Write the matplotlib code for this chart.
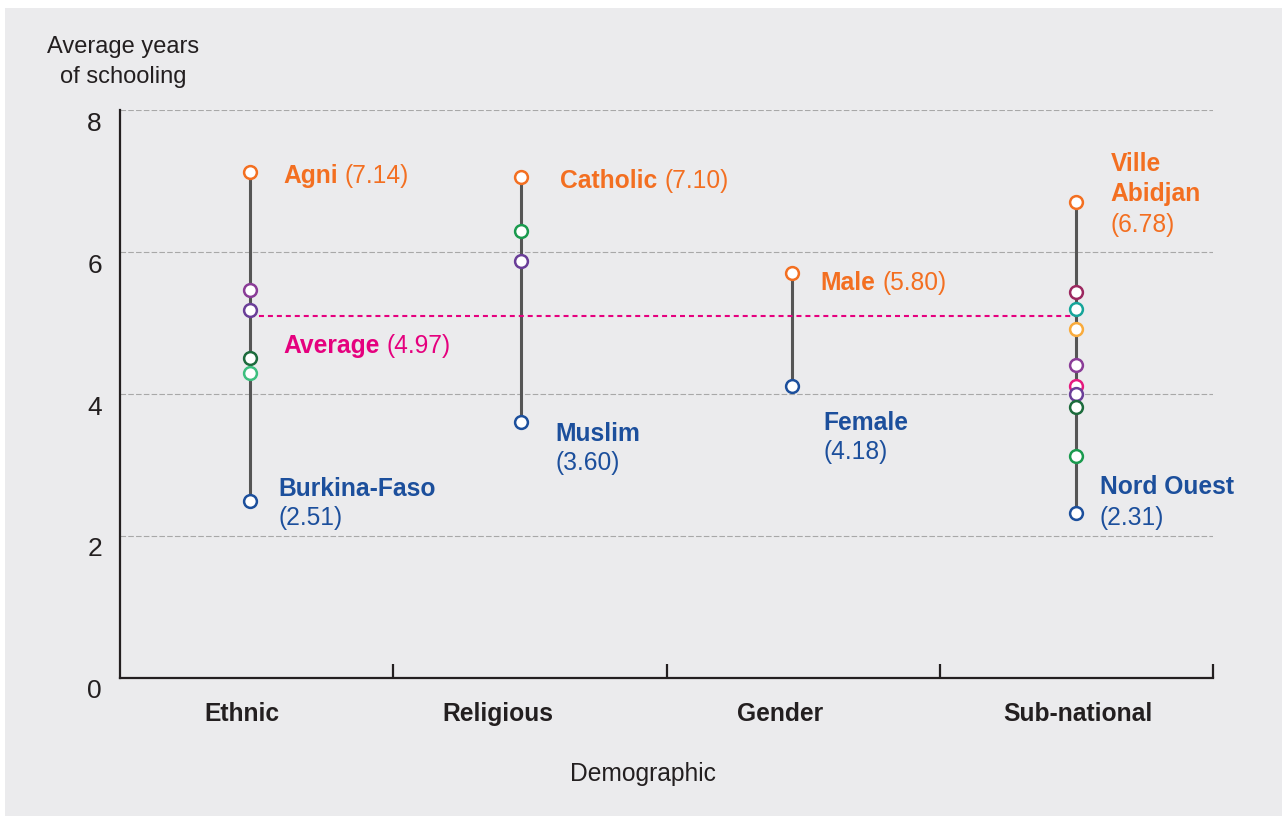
import matplotlib
matplotlib.use("Agg")
import matplotlib.pyplot as plt
from matplotlib.patches import Rectangle
from matplotlib.transforms import ScaledTranslation

plt.rcParams["font.family"] = ["Liberation Sans", "DejaVu Sans"]

# ---- data ----
CATEGORIES = ["Ethnic", "Religious", "Gender", "Sub-national"]
ETHNIC = [7.12, 5.46, 5.19, 4.51, 4.30, 2.50]
RELIGIOUS = [7.05, 6.30, 5.88, 3.60]
GENDER = [5.71, 4.11]
SUBNATIONAL = [6.71, 5.43, 5.20, 4.92, 4.41, 4.11, 4.00, 3.81, 3.13, 2.33]
AVERAGE = 5.10
AVERAGE_TEXT = ("Average", "(4.97)")

# top / bottom group labels per category: (bold name lines, value text)
TOP_LABELS = [(["Agni"], "(7.14)"), (["Catholic"], "(7.10)"),
              (["Male"], "(5.80)"), (["Ville", "Abidjan"], "(6.78)")]
BOTTOM_LABELS = [(["Burkina-Faso"], "(2.51)"), (["Muslim"], "(3.60)"),
                 (["Female"], "(4.18)"), (["Nord Ouest"], "(2.31)")]
YTICKS = [0, 2, 4, 6, 8]

# ---- styles ----
ORANGE = "#f36f21"
BLUE = "#1c4f9c"
MAGENTA = "#e5007e"
PURPLE = "#8a3c97"
VIOLET = "#6a3e98"
DKGREEN = "#1c6b3c"
LTGREEN = "#3cbf7e"
GREEN = "#1a9a4e"
TEAL = "#16a59a"
YELLOW = "#f9ab3c"
MAROON = "#9c2860"
PINK = "#e5197f"
INK = "#231f20"
BG = "#ebebed"

GROUP_COLORS = [
    [ORANGE, PURPLE, VIOLET, DKGREEN, LTGREEN, BLUE],
    [ORANGE, GREEN, VIOLET, BLUE],
    [ORANGE, BLUE],
    [ORANGE, MAROON, TEAL, YELLOW, PURPLE, PINK, VIOLET, DKGREEN, GREEN, BLUE],
]
X_POS = [0.476, 1.468, 2.460, 3.497]          # point column positions
CAT_LABEL_X = [0.445, 1.383, 2.417, 3.506]
# label layout in pixels: (dx, dy of first line, line step, inline value?)
TOP_LAYOUT = [(33, 4, 30, True), (39, 4, 30, True), (28, 10, 30, True),
              (35, -38, 30.5, False)]
BOTTOM_LAYOUT = [(28, -12, 29, False), (34, 12, 29, False),
                 (31, 37, 29, False), (24, -26, 31, False)]
FS = 17.7

fig = plt.figure(figsize=(12.82, 8.16), dpi=100, facecolor="white")
fig.patches.append(Rectangle((5 / 1282, 0), 1, 1 - 8 / 816, transform=fig.transFigure,
                             facecolor=BG, edgecolor="none", zorder=-5))
ax = fig.add_axes([120 / 1282, 1 - 678 / 816, (1213 - 120) / 1282, (678 - 110) / 816])
ax.set_facecolor("none")
ax.set_xlim(0, 4)
ax.set_ylim(0, 8)

for s in ("top", "right"):
    ax.spines[s].set_visible(False)
for s in ("left", "bottom"):
    ax.spines[s].set_color(INK)
    ax.spines[s].set_linewidth(1.6)

ax.set_xticks([1, 2, 3, 4])
ax.set_xticklabels([])
ax.tick_params(axis="x", direction="in", length=10, width=1.6, color=INK)
ax.set_yticks(YTICKS)
ax.set_yticklabels([str(v) for v in YTICKS])
ax.tick_params(axis="y", length=0, pad=13, labelsize=19, labelcolor=INK)
for lab in ax.get_yticklabels():
    lab.set_transform(lab.get_transform() + ScaledTranslation(0, -11 / 100, fig.dpi_scale_trans))
for v in YTICKS[1:]:
    ax.axhline(v, color="#a8a8a8", lw=0.8, ls=(0, (5, 2)), zorder=1)

groups = [ETHNIC, RELIGIOUS, GENDER, SUBNATIONAL]
for x, vals in zip(X_POS, groups):
    ax.plot([x, x], [min(vals), max(vals)], color="#555555", lw=2.2, zorder=2,
            solid_capstyle="butt")

# average line
ax.plot([X_POS[0], X_POS[-1]], [AVERAGE, AVERAGE], color=MAGENTA, lw=1.5,
        dashes=(2.4, 1.9), zorder=2)

for x, vals, cols in zip(X_POS, groups, GROUP_COLORS):
    for v, c in zip(vals, cols):
        ax.plot(x, v, "o", ms=9.2, mfc="white", mec=c, mew=1.8, zorder=3)


def put_label(x, y, names, value, color, layout):
    dx, dy, step, inline = layout
    t = None
    for k, nm in enumerate(names):
        t = ax.annotate(nm, (x, y), xytext=(dx, -(dy + k * step)), textcoords="offset pixels",
                        ha="left", va="center", fontsize=FS, fontweight="bold", color=color)
    if inline:
        ax.annotate(value, xy=(1, 0.5), xycoords=t, xytext=(7, 0), textcoords="offset pixels",
                    ha="left", va="center", fontsize=FS, color=color)
    else:
        k = len(names)
        ax.annotate(value, (x, y), xytext=(dx, -(dy + k * step)), textcoords="offset pixels",
                    ha="left", va="center", fontsize=FS, color=color)


for x, vals, (nm, val), lay in zip(X_POS, groups, TOP_LABELS, TOP_LAYOUT):
    put_label(x, max(vals), nm, val, ORANGE, lay)
for x, vals, (nm, val), lay in zip(X_POS, groups, BOTTOM_LABELS, BOTTOM_LAYOUT):
    put_label(x, min(vals), nm, val, BLUE, lay)
put_label(X_POS[0], AVERAGE, [AVERAGE_TEXT[0]], AVERAGE_TEXT[1], MAGENTA, (33, 30, 30, True))

for cx, cat in zip(CAT_LABEL_X, CATEGORIES):
    ax.annotate(cat, xy=(cx, 0), xycoords=ax.get_xaxis_transform(), xytext=(0, -36),
                textcoords="offset pixels", ha="center", va="center", fontsize=FS,
                fontweight="bold", color=INK)

fig.text(643 / 1282, 1 - 774 / 816, "Demographic", ha="center", va="center",
         fontsize=FS, color=INK)
fig.text(123 / 1282, 1 - 62 / 816, "Average years\nof schooling", ha="center", va="center",
         fontsize=17, color=INK, linespacing=1.45)

fig.savefig("out.png", dpi=100, facecolor="white")
